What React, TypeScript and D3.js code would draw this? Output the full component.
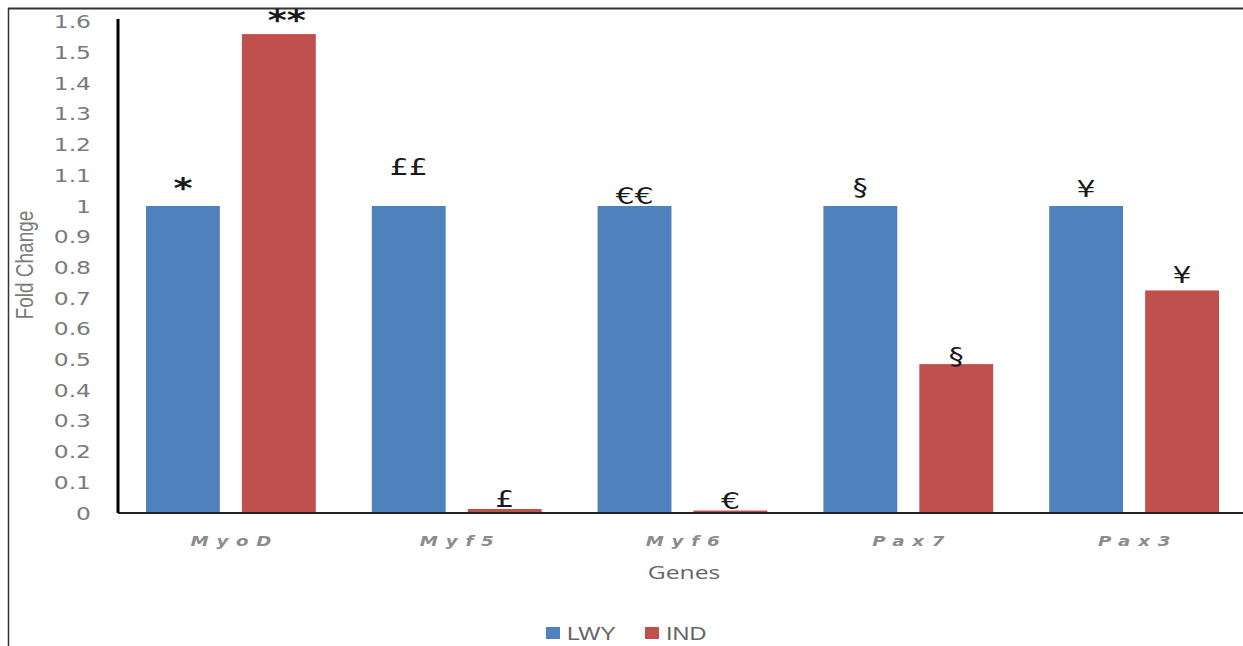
import React from "react";
import * as d3 from "d3";

const genes = ["MyoD", "Myf5", "Myf6", "Pax7", "Pax3"];
const seriesNames = ["LWY", "IND"];
const lwyValues = [1, 1, 1, 1, 1];
const indValues = [1.56, 0.013, 0.008, 0.485, 0.725];
const lwyMarks = ["*", "££", "€€", "§", "¥"];
const indMarks = ["**", "£", "€", "§", "¥"];
const yTicks = [0, 0.1, 0.2, 0.3, 0.4, 0.5, 0.6, 0.7, 0.8, 0.9, 1, 1.1, 1.2, 1.3, 1.4, 1.5, 1.6];
const colors = ["#4F81BD", "#C0504D"];

// gap (px) between bar top and annotation baseline — styling only
const lwyGap = [22, 31, 2, 11, 9];
const indGap = [18, 2, 2, 0, 7];

const SX = 1.3; // horizontal stretch of the original image's text

export default function App() {
  const W = 1243, H = 646;
  const x0 = 118, x1 = 1247;
  const yBottom = 513, yTop = 21.8;
  const x = d3.scaleBand<string>().domain(genes).range([x0, x1]).paddingInner(0.248).paddingOuter(0.124);
  const xs = d3.scaleBand<string>().domain(seriesNames).range([0, x.bandwidth()]).paddingInner(0.23);
  const y = d3.scaleLinear().domain([0, 1.6]).range([yBottom, yTop]);
  const series = [lwyValues, indValues];
  const marks = [lwyMarks, indMarks];
  const gaps = [lwyGap, indGap];
  const T = (tx: number, ty: number) => `translate(${tx},${ty}) scale(${SX},1)`;
  return (
    <svg width={W} height={H} style={{ position: "absolute", left: 0, top: 0 }}>
      <rect x={0} y={0} width={W} height={H} fill="#fff" />
      <line x1={8} x2={W} y1={8.5} y2={8.5} stroke="#333" strokeWidth={2} />
      <line x1={8.5} x2={8.5} y1={8} y2={H} stroke="#333" strokeWidth={1.5} />
      {yTicks.map((t) => (
        <text key={t} transform={T(91, y(t) + 6.5)} textAnchor="end" fill="#7a7a7a"
          fontFamily="DejaVu Sans" fontSize={18}>{String(t)}</text>
      ))}
      <text transform={`translate(33,265) scale(${SX},1) rotate(-90)`} textAnchor="middle" fill="#7a7a7a"
        fontFamily="Liberation Sans" fontSize={19}>Fold Change</text>
      {genes.map((g, i) =>
        series.map((vals, s) => {
          const bx = (x(g) as number) + (xs(seriesNames[s]) as number);
          const m = marks[s][i];
          const star = m.includes("*");
          const cx = bx + xs.bandwidth() / 2 + (star && s === 1 ? 8 : 0);
          const by = y(vals[i]) - gaps[s][i] + (star ? 14 : 0);
          return (
            <g key={g + s}>
              <rect x={bx} y={y(vals[i])} width={xs.bandwidth()} height={yBottom - y(vals[i])} fill={colors[s]} />
              <text transform={T(cx, by)} textAnchor="middle" fill="#1a1a1a"
                fontFamily="DejaVu Sans" fontWeight={star ? "bold" : "normal"} fontSize={star ? 28 : 23}>
                {m}
              </text>
            </g>
          );
        })
      )}
      <line x1={x0} x2={W} y1={yBottom} y2={yBottom} stroke="#222" strokeWidth={2} />
      <line x1={x0} x2={x0} y1={19} y2={yBottom} stroke="#000" strokeWidth={3} />
      {genes.map((g) => (
        <text key={g} transform={T((x(g) as number) + x.bandwidth() / 2 + 4, 546)} textAnchor="middle" fill="#8c8c8c"
          fontFamily="DejaVu Sans" fontStyle="italic" fontWeight="bold" fontSize={14} letterSpacing={6}>{g}</text>
      ))}
      <text transform={T(684, 579)} textAnchor="middle" fill="#666" fontFamily="Open Sans" fontSize={19}>Genes</text>
      {seriesNames.map((n, s) => {
        const lx = [546, 645][s];
        return (
          <g key={n}>
            <rect x={lx} y={627} width={14} height={12} fill={colors[s]} />
            <text transform={T(lx + 21, 640)} fill="#666" fontFamily="Liberation Sans" fontSize={18}>{n}</text>
          </g>
        );
      })}
    </svg>
  );
}
